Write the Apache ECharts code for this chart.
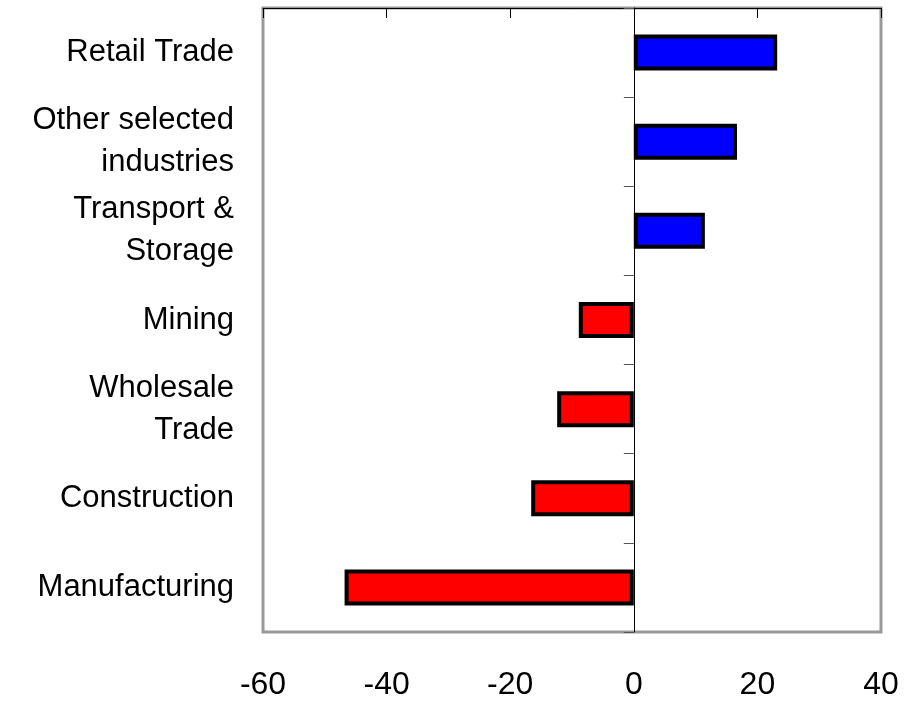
<!DOCTYPE html>
<html>
<head>
<meta charset="utf-8">
<script src="https://cdn.jsdelivr.net/npm/echarts@6/dist/echarts.min.js"></script>
<style>
  html, body { margin: 0; padding: 0; background: #fff; }
  #chart { width: 904px; height: 701px; }
</style>
</head>
<body>
<div id="chart"></div>
<script>
// Industry categories, listed top to bottom
const industries = [
  'Retail Trade',
  'Other selected\nindustries',
  'Transport &\nStorage',
  'Mining',
  'Wholesale\nTrade',
  'Construction',
  'Manufacturing'
];

// Change per industry
const changes = [23.2, 16.7, 11.5, -8.9, -12.4, -16.6, -46.8];

// Value axis range and ticks
const xMin = -60;
const xMax = 40;
const xStep = 20;

const POS = '#0000ff';
const NEG = '#ff0000';

const chart = echarts.init(document.getElementById('chart'));

chart.setOption({
  backgroundColor: '#ffffff',
  animation: false,
  textStyle: { fontFamily: 'Liberation Sans, Arial, sans-serif' },
  grid: {
    left: 263,
    right: 23,
    top: 8,
    bottom: 66,
    show: true,
    borderColor: '#999999',
    borderWidth: 3,
    containLabel: false
  },
  xAxis: [
    {
      type: 'value',
      position: 'bottom',
      min: xMin,
      max: xMax,
      interval: xStep,
      axisLine: { show: false },
      axisTick: { show: false },
      splitLine: { show: false },
      axisLabel: {
        color: '#000',
        fontSize: 32,
        margin: 37,
        fontFamily: 'Liberation Sans, Arial, sans-serif'
      }
    },
    {
      type: 'value',
      position: 'top',
      min: xMin,
      max: xMax,
      interval: xStep,
      axisLine: { show: true, lineStyle: { color: '#000', width: 1 } },
      axisTick: { show: true, inside: true, length: 10, lineStyle: { color: '#000', width: 1 } },
      splitLine: { show: false },
      axisLabel: { show: false }
    }
  ],
  yAxis: [
    {
      type: 'category',
      data: industries,
      inverse: true,
      position: 'left',
      axisLine: { show: false },
      axisTick: { show: false },
      splitLine: { show: false },
      axisLabel: {
        color: '#000',
        fontSize: 31,
        lineHeight: 42,
        margin: 29,
        align: 'right',
        fontFamily: 'Liberation Sans, Arial, sans-serif'
      }
    },
    {
      type: 'category',
      data: industries,
      inverse: true,
      position: 'left',
      axisLine: {
        show: true,
        onZero: true,
        onZeroAxisIndex: 0,
        lineStyle: { color: '#000', width: 1 }
      },
      axisTick: {
        show: true,
        inside: false,
        length: 10,
        lineStyle: { color: '#555', width: 1 }
      },
      splitLine: { show: false },
      axisLabel: { show: false }
    }
  ],
  series: [
    {
      type: 'bar',
      xAxisIndex: 0,
      yAxisIndex: 0,
      barWidth: 36,
      data: changes,
      itemStyle: {
        color: p => (p.value >= 0 ? POS : NEG),
        borderColor: '#000',
        borderWidth: 4
      }
    }
  ]
});
</script>
</body>
</html>
